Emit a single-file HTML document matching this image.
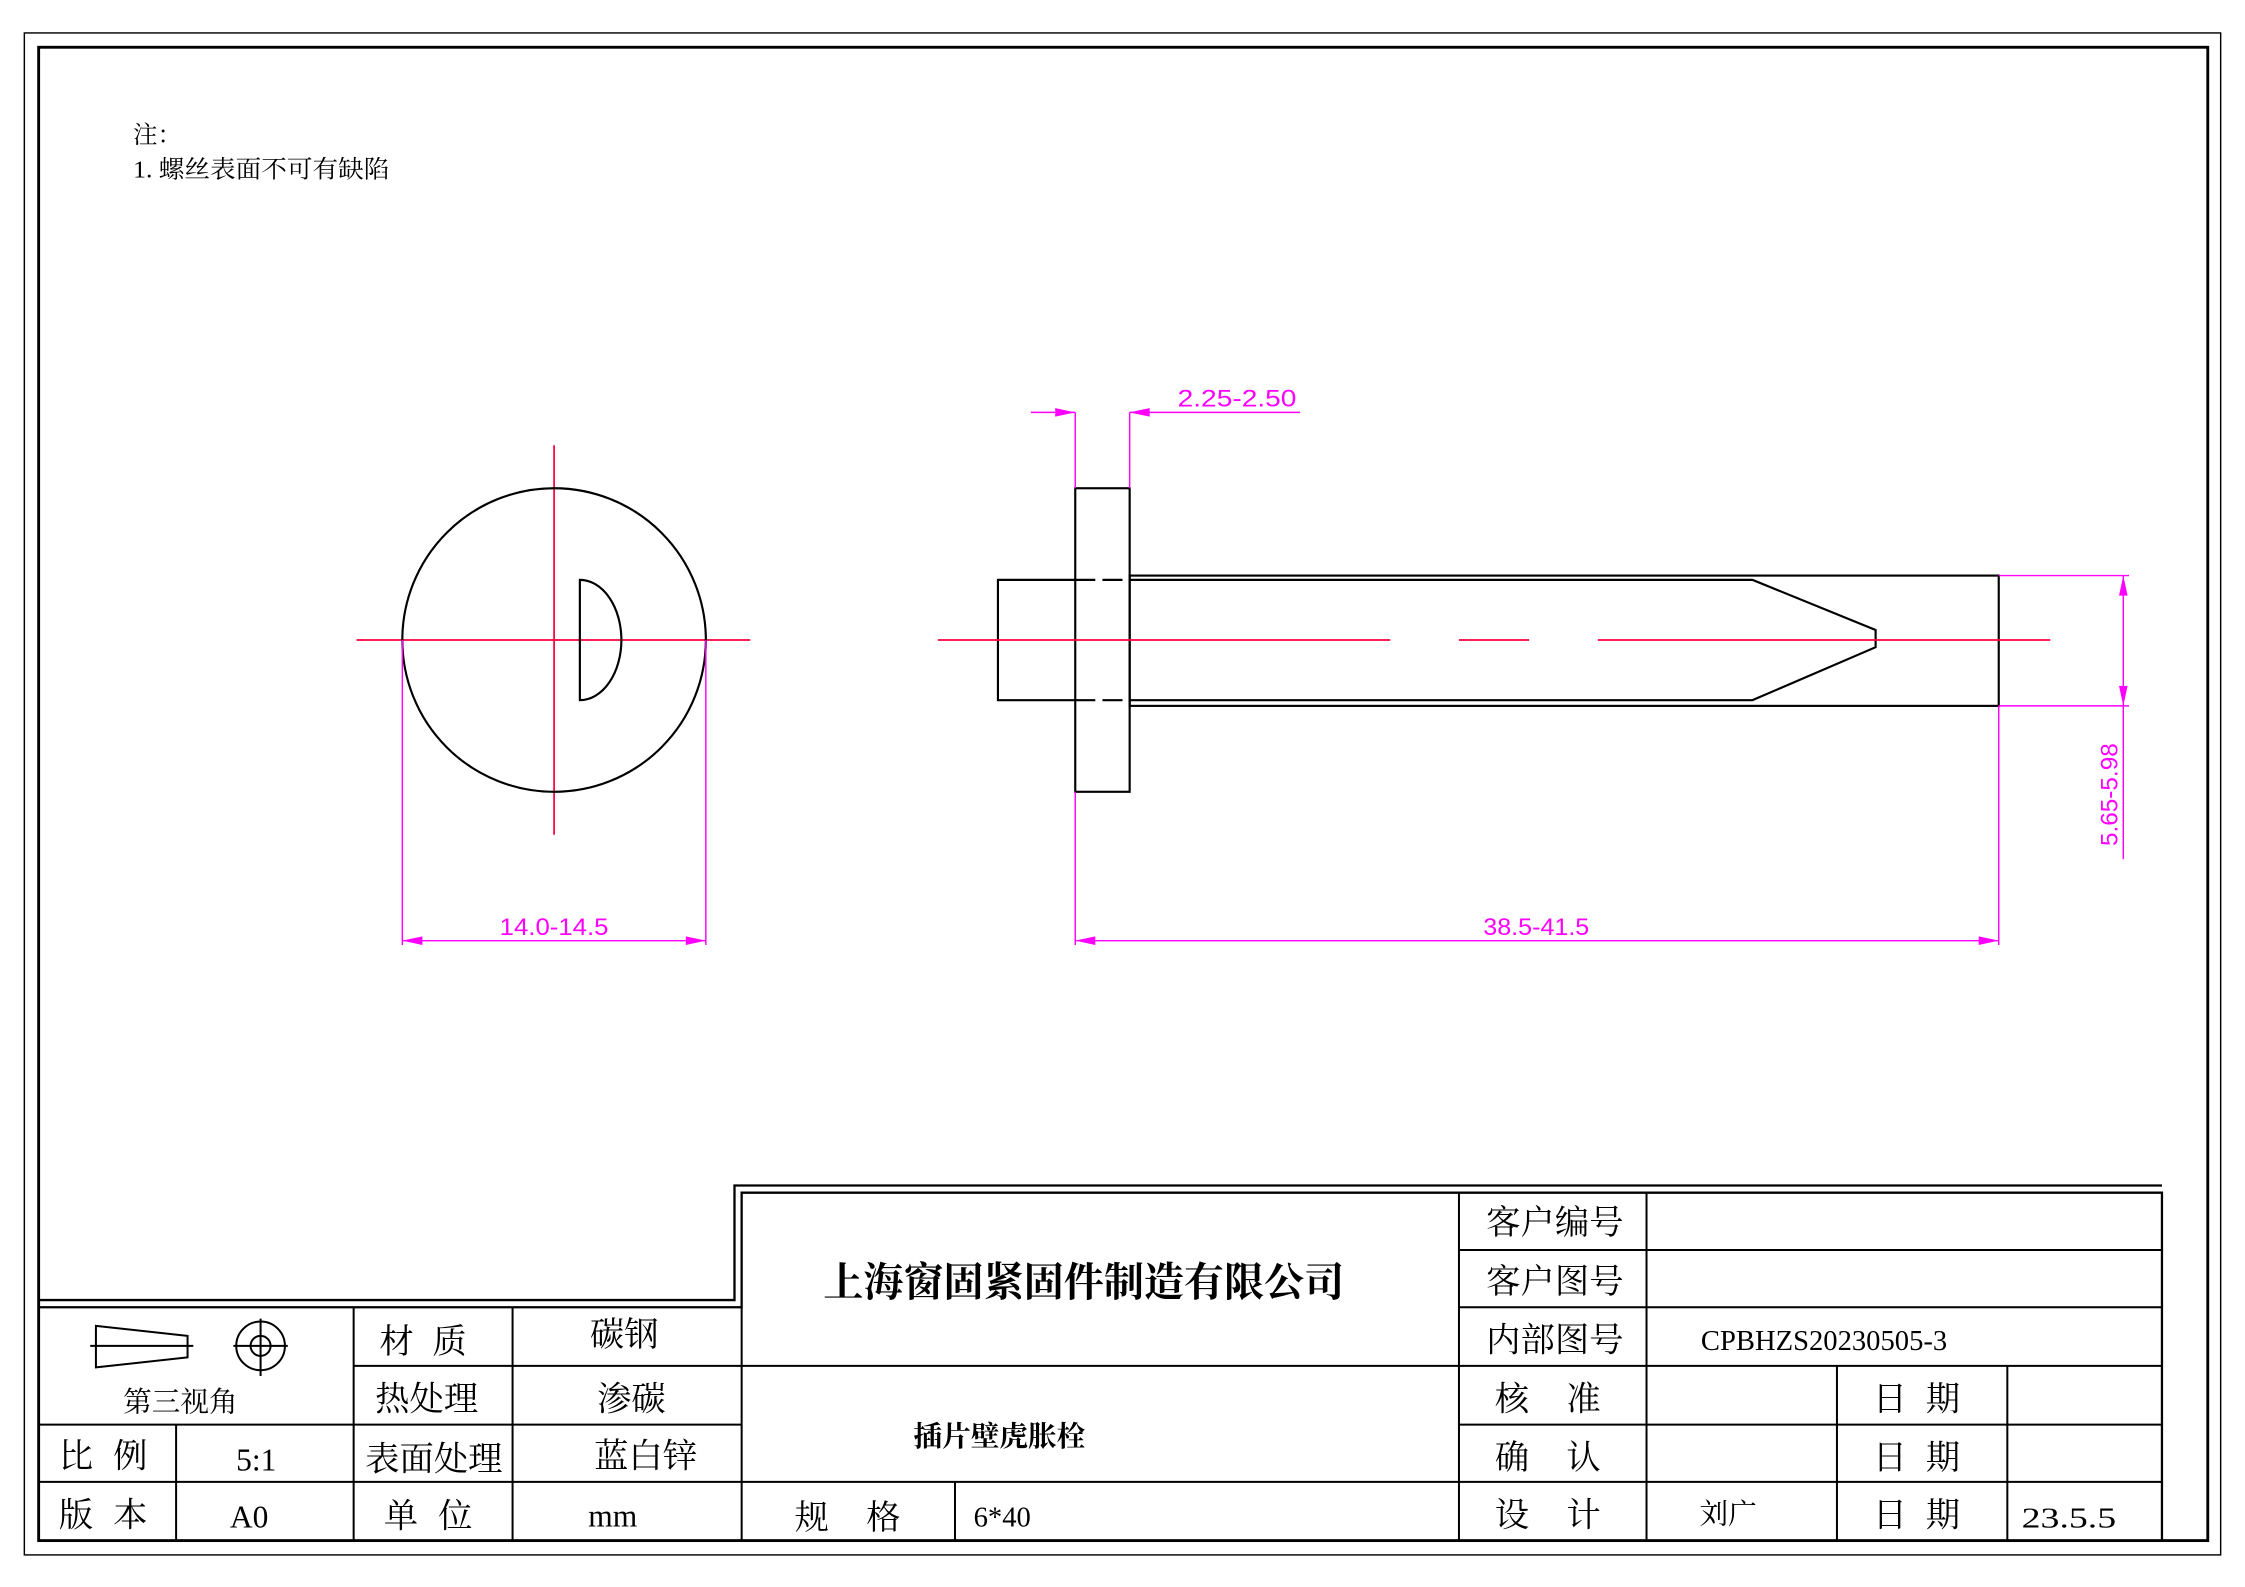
<!DOCTYPE html>
<html><head><meta charset="utf-8"><style>
html,body{margin:0;padding:0;background:#fff;}
svg{display:block;}
text{font-family:"Liberation Serif","Noto Serif CJK SC",serif;fill:#000;}
.m{fill:#ff00ff;font-family:"Liberation Sans",sans-serif;}
</style></head><body>
<svg width="2245" height="1587" viewBox="0 0 1568 1108.4" xmlns="http://www.w3.org/2000/svg">
<rect x="0" y="0" width="1568" height="1109" fill="#fff"/>
<rect x="17" y="23" width="1534" height="1063" fill="none" stroke="#000" stroke-width="1"/>
<rect x="27" y="33" width="1515" height="1043" fill="none" stroke="#000" stroke-width="2"/>

<text x="93" y="100" font-size="17">注：</text>
<text x="93" y="124" font-size="17" textLength="179" lengthAdjust="spacingAndGlyphs">1. 螺丝表面不可有缺陷</text>

<g fill="none" stroke="#000">
<path d="M27,908 H513 V828 H1510" stroke-width="1.6"/>
<path d="M27,913 H518 V833 H1510 V1076" stroke-width="1.6"/>
<path d="M247,954 H518 M27,995 H518 M27,1035 H1510" stroke-width="1.4"/>
<path d="M123,995 V1076 M247,913 V1076 M358,913 V1076 M518,913 V1076 M667,1035 V1076" stroke-width="1.4"/>
<path d="M518,954 H1510" stroke-width="1.4"/>
<path d="M1019,833 V1076 M1150,833 V1076 M1283,954 V1076 M1402,954 V1076" stroke-width="1.4"/>
<path d="M1019,873 H1510 M1019,913 H1510 M1019,995 H1510" stroke-width="1.4"/>
</g>

<g fill="none" stroke="#000" stroke-width="1.4">
<path d="M67,926 L131,933 V948 L67,955 Z"/>
<path d="M63,940 H135"/>
<circle cx="182" cy="940" r="17"/>
<circle cx="182" cy="940" r="7"/>
<path d="M163,940 H201 M182,921 V961"/>
</g>

<g font-size="24">
<text x="126" y="986" font-size="20" text-anchor="middle">第三视角</text>
<text x="265" y="945">材</text><text x="302" y="945">质</text>
<text x="436" y="940" text-anchor="middle">碳钢</text>
<text x="298" y="985" text-anchor="middle">热处理</text>
<text x="441" y="985" text-anchor="middle">渗碳</text>
<text x="41" y="1025">比</text><text x="79" y="1025">例</text>
<text x="179" y="1027" text-anchor="middle" font-size="22">5:1</text>
<text x="303" y="1027" text-anchor="middle">表面处理</text>
<text x="451" y="1025" text-anchor="middle">蓝白锌</text>
<text x="41" y="1066">版</text><text x="79" y="1066">本</text>
<text x="174" y="1067" text-anchor="middle" font-size="22">A0</text>
<text x="268" y="1067">单</text><text x="306" y="1067">位</text>
<text x="428" y="1066" text-anchor="middle" font-size="22">mm</text>
<text x="555" y="1068">规</text><text x="605" y="1068">格</text>
<text x="680" y="1066" font-size="20">6*40</text>
<text x="757" y="905" text-anchor="middle" font-size="28" font-weight="bold">上海窗固紧固件制造有限公司</text>
<text x="698" y="1010" text-anchor="middle" font-size="20" font-weight="bold">插片壁虎胀栓</text>
<text x="1086" y="862" text-anchor="middle">客户编号</text>
<text x="1086" y="903" text-anchor="middle">客户图号</text>
<text x="1086" y="944" text-anchor="middle">内部图号</text>
<text x="1188" y="943" font-size="20" textLength="172" lengthAdjust="spacingAndGlyphs">CPBHZS20230505-3</text>
<text x="1044" y="985">核</text><text x="1094" y="985">准</text>
<text x="1044" y="1026">确</text><text x="1094" y="1026">认</text>
<text x="1044" y="1066">设</text><text x="1094" y="1066">计</text>
<text x="1308" y="985">日</text><text x="1345" y="985">期</text>
<text x="1308" y="1026">日</text><text x="1345" y="1026">期</text>
<text x="1308" y="1066">日</text><text x="1345" y="1066">期</text>
<text x="1187" y="1064" font-size="20">刘广</text>
<text x="1412" y="1067" font-size="20" textLength="66" lengthAdjust="spacingAndGlyphs">23.5.5</text>
</g>

<g fill="none" stroke-width="1.2">
<path d="M387,311 V583 M249,447 H524" stroke="#ff0040"/>
<circle cx="387" cy="447" r="106" stroke="#000" stroke-width="1.5"/>
<path d="M405,405 V489 A29 42 0 0 0 405,405 Z" stroke="#000" stroke-width="1.5"/>
<path d="M281,447 V660 M493,447 V660 M281,657 H493" stroke="#ff00ff" stroke-width="1"/>
</g>
<path d="M281,657 l14,-3 v6 Z M493,657 l-14,-3 v6 Z" fill="#ff00ff"/>
<text class="m" x="387" y="653" font-size="17" text-anchor="middle" textLength="76" lengthAdjust="spacingAndGlyphs">14.0-14.5</text>

<g fill="none" stroke="#000" stroke-width="1.5">
<rect x="751" y="341" width="38" height="212"/>
<path d="M751,405 H697 V489 H751"/>
<path d="M751,405 H789 M751,489 H789" stroke-dasharray="14,5"/>
<rect x="789" y="402" width="607" height="91"/>
<path d="M789,405 H1224 L1310,440 V452 L1224,489 H789"/>
</g>
<path d="M655,447 H971 M1019,447 H1068 M1116,447 H1432" stroke="#ff0040" stroke-width="1.2"/>
<g fill="none" stroke="#ff00ff" stroke-width="1">
<path d="M751,288 V341 M789,288 V341 M720,288 H751 M789,288 H908"/>
<path d="M1396,402 H1487 M1396,493 H1487 M1483,402 V600"/>
<path d="M751,553 V660 M1396,493 V660 M751,657 H1396"/>
</g>
<g fill="#ff00ff">
<path d="M751,288 l-14,-3 v6 Z M789,288 l14,-3 v6 Z"/>
<path d="M1483,402 l-3,14 h6 Z M1483,493 l-3,-14 h6 Z"/>
<path d="M751,657 l14,-3 v6 Z M1396,657 l-14,-3 v6 Z"/>
</g>
<text class="m" x="864" y="284" font-size="17" text-anchor="middle" textLength="83" lengthAdjust="spacingAndGlyphs">2.25-2.50</text>
<text class="m" x="1073" y="653" font-size="17" text-anchor="middle" textLength="74" lengthAdjust="spacingAndGlyphs">38.5-41.5</text>
<text class="m" x="0" y="0" font-size="17" text-anchor="middle" transform="translate(1479,555) rotate(-90)">5.65-5.98</text>
</svg>
</body></html>
